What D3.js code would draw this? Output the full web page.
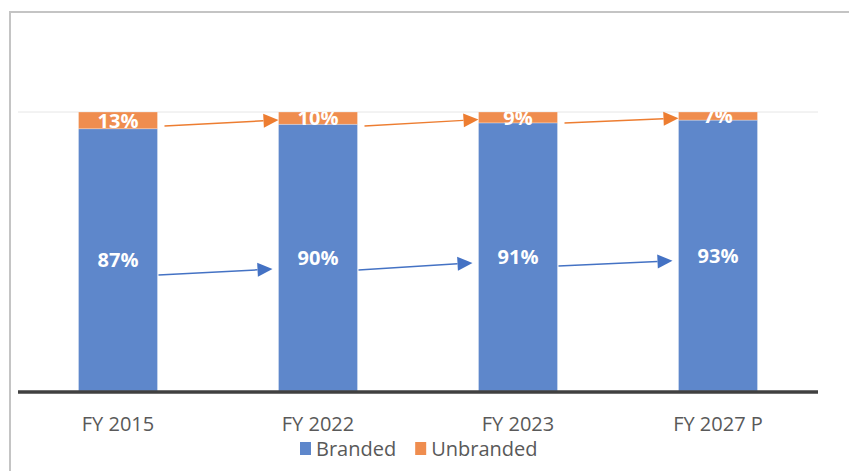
<!DOCTYPE html>
<html>
<head>
<meta charset="utf-8">
<script src="https://cdn.jsdelivr.net/npm/d3@7"></script>
<style>
  html, body { margin: 0; padding: 0; background: #fff; }
  svg { display: block; font-family: "Open Sans", "Noto Sans", sans-serif; }
</style>
</head>
<body>
<div id="chart"></div>
<script>
// categories and printed labels
const categories = ["FY 2015", "FY 2022", "FY 2023", "FY 2027 P"];
const brandedLabels = ["87%", "90%", "91%", "93%"];
const unbrandedLabels = ["13%", "10%", "9%", "7%"];
// segment shares as drawn in the picture (the printed labels differ)
const brandedShare = [94.0, 95.6, 96.1, 97.1];
const unbrandedShare = [6.0, 4.4, 3.9, 2.9];
// trend arrows: from / to category, start and end level on the y scale
const blueArrows = [
  { from: "FY 2015", to: "FY 2022", y0: 41.6, y1: 43.7 },
  { from: "FY 2022", to: "FY 2023", y0: 43.4, y1: 45.9 },
  { from: "FY 2023", to: "FY 2027 P", y0: 44.8, y1: 46.7 }
];
const orangeArrows = [
  { from: "FY 2015", to: "FY 2022", y0: 95.0, y1: 97.1 },
  { from: "FY 2022", to: "FY 2023", y0: 95.0, y1: 97.3 },
  { from: "FY 2023", to: "FY 2027 P", y0: 96.1, y1: 97.8 }
];

const blue = "#5e87cb", orange = "#ef8d4f";
const blueLine = "#4472c4", orangeLine = "#ed7d31";

var width = 849, height = 471;
var plot = { left: 18, right: 818, top: 112, bottom: 391 };

var svg = d3.select("#chart")
  .append("svg")
  .attr("width", width)
  .attr("height", height);

// chart frame
svg.append("path")
  .attr("d", "M10," + height + "V12H" + width)
  .attr("fill", "none")
  .attr("stroke", "#c4c4c4")
  .attr("stroke-width", 2);

var x = d3.scaleBand()
  .domain(categories)
  .range([plot.left, plot.right])
  .paddingInner(0.605)
  .paddingOuter(0.3025);

var y = d3.scaleLinear()
  .domain([0, 100])
  .range([plot.bottom, plot.top]);

// top gridline
svg.append("line")
  .attr("x1", plot.left).attr("x2", plot.right)
  .attr("y1", y(100)).attr("y2", y(100))
  .attr("stroke", "#e6e6e6")
  .attr("stroke-width", 1);

var rows = categories.map((c, i) => ({
  cat: c, branded: brandedShare[i], unbranded: unbrandedShare[i],
  bl: brandedLabels[i], ul: unbrandedLabels[i]
}));

var stack = d3.stack().keys(["branded", "unbranded"])(rows);
var colors = { branded: blue, unbranded: orange };

svg.append("defs").append("clipPath").attr("id", "plotclip")
  .append("rect")
  .attr("x", plot.left).attr("y", plot.top)
  .attr("width", plot.right - plot.left)
  .attr("height", plot.bottom - plot.top);

stack.forEach(layer => {
  svg.append("g")
    .selectAll("rect")
    .data(layer)
    .join("rect")
    .attr("x", d => x(d.data.cat))
    .attr("width", x.bandwidth())
    .attr("y", d => y(d[1]))
    .attr("height", d => y(d[0]) - y(d[1]))
    .attr("fill", colors[layer.key])
    .attr("stroke", "#fff")
    .attr("stroke-opacity", 0.35)
    .attr("stroke-width", 0.8);
});

// data labels
var labels = svg.append("g").attr("clip-path", "url(#plotclip)");
stack.forEach(layer => {
  labels.selectAll(null)
    .data(layer)
    .join("text")
    .attr("x", d => x(d.data.cat) + x.bandwidth() / 2)
    .attr("y", d => (y(d[0]) + y(d[1])) / 2)
    .attr("dy", "0.36em")
    .attr("text-anchor", "middle")
    .attr("fill", "#fff")
    .style("font-size", "20px")
    .style("font-weight", "bold")
    .text(d => layer.key === "branded" ? d.data.bl : d.data.ul);
});

// arrows
function drawArrows(list, color, dStart, dEnd) {
  var g = svg.append("g");
  list.forEach(a => {
    var x0 = x(a.from) + x.bandwidth() + dStart;
    var x1 = x(a.to) + dEnd;
    var y0 = y(a.y0), y1 = y(a.y1);
    var ang = Math.atan2(y1 - y0, x1 - x0);
    var len = 15, half = 7;
    var bx = x1 - len * Math.cos(ang), by = y1 - len * Math.sin(ang);
    g.append("line")
      .attr("x1", x0).attr("y1", y0)
      .attr("x2", bx).attr("y2", by)
      .attr("stroke", color)
      .attr("stroke-width", 1.5);
    var px = -Math.sin(ang) * half, py = Math.cos(ang) * half;
    g.append("path")
      .attr("d", "M" + x1 + "," + y1 + "L" + (bx + px) + "," + (by + py) + "L" + (bx - px) + "," + (by - py) + "Z")
      .attr("fill", color);
  });
}
drawArrows(blueArrows, blueLine, 1, -6);
drawArrows(orangeArrows, orangeLine, 7, 0);

// baseline
svg.append("line")
  .attr("x1", plot.left).attr("x2", plot.right)
  .attr("y1", y(0) + 1).attr("y2", y(0) + 1)
  .attr("stroke", "#404040")
  .attr("stroke-width", 3.5);

// category labels
svg.append("g")
  .selectAll("text")
  .data(categories)
  .join("text")
  .attr("x", d => x(d) + x.bandwidth() / 2)
  .attr("y", 424)
  .attr("dy", "0.36em")
  .attr("text-anchor", "middle")
  .attr("fill", "#595959")
  .style("font-size", "20px")
  .text(d => d);

// legend
var legendItems = [
  { name: "Branded", color: blue },
  { name: "Unbranded", color: orange }
];
var legend = svg.append("g");
var lx = 300;
legendItems.forEach(item => {
  legend.append("rect")
    .attr("x", lx).attr("y", 442)
    .attr("width", 11).attr("height", 13)
    .attr("fill", item.color);
  var t = legend.append("text")
    .attr("x", lx + 16).attr("y", 449)
    .attr("dy", "0.36em")
    .attr("fill", "#595959")
    .style("font-size", "20px")
    .text(item.name);
  lx += 16 + t.node().getComputedTextLength() + 19;
});
</script>
</body>
</html>
